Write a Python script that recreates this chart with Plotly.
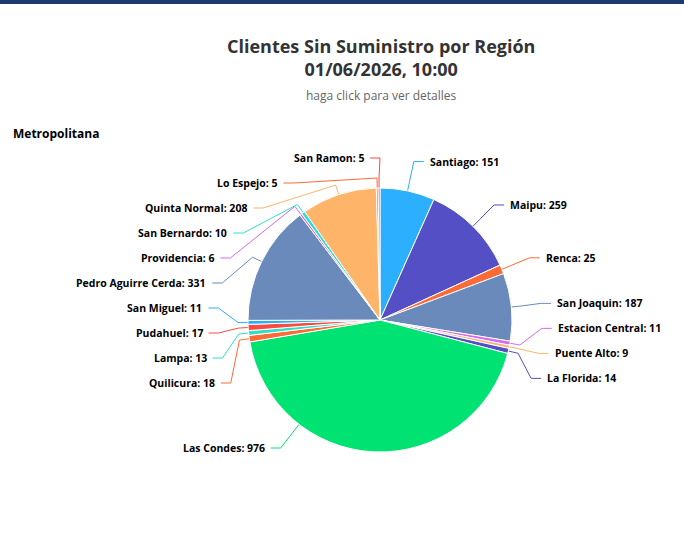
import math
import plotly.graph_objects as go

# ---------------- data ----------------
comunas = ["Santiago", "Maipu", "Renca", "San Joaquin", "Estacion Central",
           "Puente Alto", "La Florida", "Las Condes", "Quilicura", "Lampa",
           "Pudahuel", "San Miguel", "Pedro Aguirre Cerda", "Providencia",
           "San Bernardo", "Quinta Normal", "Lo Espejo", "San Ramon"]
clientes = [151, 259, 25, 187, 11, 9, 14, 976, 18, 13, 17, 11, 331, 6, 10, 208, 5, 5]
colores = ["#2caffe", "#544fc5", "#fe6a35", "#6b8abc", "#d568fb",
           "#feb56a", "#544fc5", "#00e272", "#fe6a35", "#2ee0ca",
           "#fa4b42", "#2caffe", "#6b8abc", "#d568fb", "#2ee0ca",
           "#feb56a", "#fe6a35", "#fa4b42"]

titulo = "Clientes Sin Suministro por Región<br>01/06/2026, 10:00"
subtitulo = "haga click para ver detalles"
region = "Metropolitana"

# ---------------- layout constants ----------------
W, H = 684, 535
CX, CY, R = 380, 320, 132
DIST = 30          # label distance from pie edge
BREAK = 10         # connector break distance from pie edge
SPACING = 25       # min vertical spacing of labels
TOP, BOTTOM = CY - R - DIST, 448
FONT = "'Open Sans', 'Noto Sans', sans-serif"

total = float(sum(clientes))
starts, ends, mids = [], [], []
cum = 0.0
for v in clientes:
    a0 = cum / total * 360
    cum += v
    a1 = cum / total * 360
    starts.append(a0); ends.append(a1); mids.append((a0 + a1) / 2)


def polar(angle, rad):
    t = math.radians(angle)
    return CX + rad * math.sin(t), CY - rad * math.cos(t)


def distribute(items):
    """items: list of (natural_y, idx) sorted by y. returns dict idx->y"""
    groups = []
    for ny, idx in items:
        groups.append({"nat": [ny], "idx": [idx]})
        while True:
            g = groups[-1]
            n = len(g["nat"])
            top = sum(g["nat"]) / n - (n - 1) * SPACING / 2
            top = max(TOP, min(top, BOTTOM - (n - 1) * SPACING))
            g["top"] = top
            if len(groups) > 1:
                p = groups[-2]
                pb = p["top"] + (len(p["nat"]) - 1) * SPACING
                if pb + SPACING > top:
                    p["nat"] += g["nat"]; p["idx"] += g["idx"]
                    groups.pop()
                    continue
            break
    out = {}
    for g in groups:
        for k, idx in enumerate(g["idx"]):
            out[idx] = g["top"] + k * SPACING
    return out


right, left = [], []
for i, m in enumerate(mids):
    _, ny = polar(m, R + DIST)
    (right if m < 180 else left).append((ny, i))
right.sort(); left.sort()
ypos = {}
ypos.update(distribute(right))
ypos.update(distribute(left))

fig = go.Figure()

# pixel-based helper axes
fig.update_xaxes(range=[0, W], visible=False, fixedrange=True)
fig.update_yaxes(range=[H, 0], visible=False, fixedrange=True)

annotations = []
for i, name in enumerate(comunas):
    side = 1 if mids[i] < 180 else -1
    y = ypos[i]
    dy = y - CY
    cxl = CX + side * math.sqrt(max(0.0, (R + DIST) ** 2 - dy ** 2))
    # touching angle
    ang = mids[i]
    if ends[i] - starts[i] > 90:
        d = math.degrees(math.atan2(cxl - CX, -(y - CY))) % 360
        if starts[i] < d < ends[i]:
            ang = d
    bx, by = polar(ang, R + BREAK)
    ex, ey = polar(ang, R)
    fig.add_trace(go.Scatter(
        x=[cxl + side * 10, cxl, bx, ex], y=[y, y, by, ey],
        mode="lines", line=dict(color=colores[i], width=1),
        hoverinfo="skip", showlegend=False))
    annotations.append(dict(
        x=cxl + side * 14, y=y, xref="x", yref="y",
        text=f"{name}: {clientes[i]}", showarrow=False,
        xanchor="left" if side > 0 else "right", yanchor="middle",
        font=dict(family=FONT, size=10.5, color="#000000", weight="bold")))

fig.add_trace(go.Pie(
    labels=comunas, values=clientes, sort=False, direction="clockwise",
    rotation=0, marker=dict(colors=colores, line=dict(color="#ffffff", width=1)),
    textinfo="none", hoverinfo="label+value", showlegend=False,
    domain=dict(x=[(CX - R) / W, (CX + R) / W],
                y=[(H - CY - R) / H, (H - CY + R) / H])))

annotations += [
    dict(x=381, y=57, xref="x", yref="y", text=titulo, showarrow=False,
         xanchor="center", yanchor="middle",
         font=dict(family=FONT, size=18, color="#333333", weight="bold")),
    dict(x=381, y=95, xref="x", yref="y", text=subtitulo, showarrow=False,
         xanchor="center", yanchor="middle",
         font=dict(family=FONT, size=12, color="#666666")),
    dict(x=11, y=133, xref="x", yref="y", text=region, showarrow=False,
         xanchor="left", yanchor="middle",
         font=dict(family=FONT, size=12, color="#000000", weight="bold")),
]

fig.update_layout(
    width=W, height=H, margin=dict(l=0, r=0, t=0, b=0),
    paper_bgcolor="#ffffff", plot_bgcolor="#ffffff",
    annotations=annotations,
    shapes=[dict(type="rect", xref="paper", yref="paper", x0=0, x1=1,
                 y0=1 - 4 / H, y1=1, fillcolor="#1f3a6e", line=dict(width=0),
                 layer="above")],
)

fig.write_html("out.html", config={"displayModeBar": False})
